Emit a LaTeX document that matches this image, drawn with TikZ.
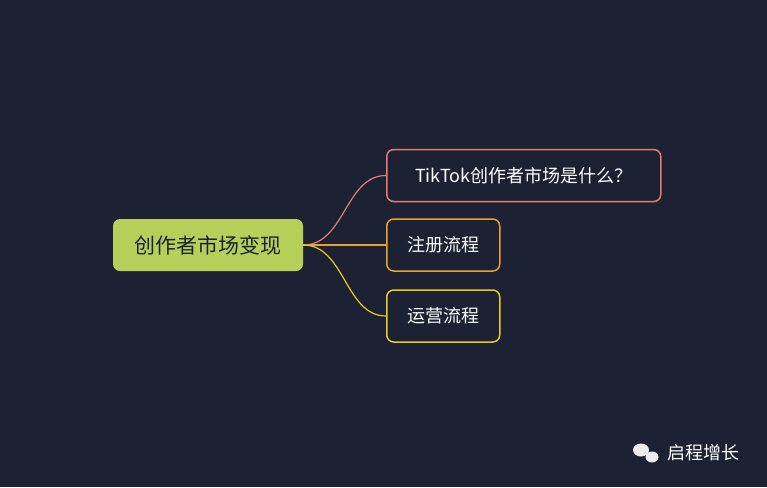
\documentclass[tikz,border=0pt]{standalone}
\usepackage{fontspec}
\setmainfont{Noto Sans CJK SC}
\definecolor{bgdark}{HTML}{1C2233}
\definecolor{rootgreen}{HTML}{B5CF58}
\definecolor{lnred}{HTML}{E57B72}
\definecolor{lnorange}{HTML}{E8A030}
\definecolor{lnyellow}{HTML}{E8CA20}
\tikzset{
  rootbox/.style={fill=rootgreen,rounded corners=7pt,minimum width=190pt,minimum height=52pt,
    font=\fontsize{21}{24}\selectfont,text=bgdark},
  leafbox/.style={draw=#1,line width=1.5pt,rounded corners=7pt,minimum height=52pt,fill=bgdark,
    font=\fontsize{18}{20}\selectfont,text=white,inner xsep=0pt},
  branch/.style={draw=#1,line width=1.2pt}
}
\begin{document}
\begin{tikzpicture}[x=1pt,y=-1pt]
  % background
  \fill[bgdark] (0,0) rectangle (767,487);
  \useasboundingbox (0,0) rectangle (767,487);
  % nodes
  \node[rootbox] (root) at (208,245) {创作者市场变现};
  \node[leafbox=lnred,anchor=west,minimum width=274pt] (what) at (386,175.5) {TikTok创作者市场是什么？};
  \node[leafbox=lnorange,anchor=west,minimum width=113pt] (reg) at (386,245) {注册流程};
  \node[leafbox=lnyellow,anchor=west,minimum width=113pt] (ops) at (386,316) {运营流程};
  % branches
  \draw[branch=lnred] (root.east) .. controls (345,245) and (345,175.5) .. (what.west);
  \draw[branch=lnorange] (root.east) -- (reg.west);
  \draw[branch=lnyellow] (root.east) .. controls (345,245) and (345,316) .. (ops.west);
  % watermark
  \fill[white!85!gray] (641,450) ellipse (8pt and 6.5pt);
  \fill[white!85!gray] (652,457) ellipse (6.5pt and 5.5pt);
  \node[text=white,font=\fontsize{18}{20}\selectfont,anchor=west] (mark) at (664,453) {启程增长};
\end{tikzpicture}
\end{document}
